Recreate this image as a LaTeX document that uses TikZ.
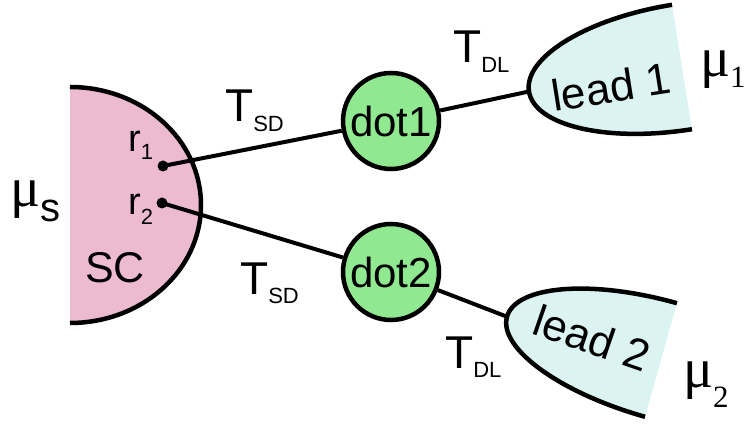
\documentclass[tikz,border=0pt]{standalone}
\usepackage{fontspec}
\setmainfont{Liberation Sans}
\newfontfamily\serifmu{Liberation Serif}
\definecolor{scpink}{RGB}{237,187,208}
\definecolor{leadcyan}{RGB}{220,244,241}
\definecolor{dotgreen}{RGB}{144,232,144}
\begin{document}
\begin{tikzpicture}[x=1pt,y=1pt,
  qdot/.style={circle, draw, line width=4.5pt, fill=dotgreen, minimum size=96pt, inner sep=0pt, font=\fontsize{42}{42}\selectfont},
  wire/.style={line width=4pt},
  edgeline/.style={line width=4.5pt},
  pin/.style={circle, fill=black, minimum size=11pt, inner sep=0pt},
  lbl/.style={inner sep=0pt, anchor=base west, font=\fontsize{46}{46}\selectfont},
  leadtxt/.style={inner sep=0pt, font=\fontsize{44}{44}\selectfont},
]
\useasboundingbox (0,0) rectangle (752,423);
% superconductor
\fill[scpink] (70,336) arc[start angle=90, end angle=-90, x radius=131, y radius=118] -- cycle;
\draw[edgeline] (70,336) arc[start angle=90, end angle=-90, x radius=131, y radius=118];
% lead 1
\begin{scope}[shift={(682,356)}, rotate=9.1]
  \fill[leadcyan] (0,63) arc[start angle=90, end angle=270, x radius=155, y radius=63] -- cycle;
  \draw[edgeline] (0,63) arc[start angle=90, end angle=270, x radius=155, y radius=63];
  \coordinate (l1) at (-155,0);
\end{scope}
% lead 2
\begin{scope}[shift={(661,63)}, rotate=-15.7]
  \fill[leadcyan] (0,59) arc[start angle=90, end angle=270, x radius=160, y radius=59] -- cycle;
  \draw[edgeline] (0,59) arc[start angle=90, end angle=270, x radius=160, y radius=59];
  \coordinate (l2) at (-160,0);
\end{scope}
\node[leadtxt, rotate=9] (lead1) at (611,336) {lead 1};
\node[leadtxt, rotate=-19] (lead2) at (592,85) {lead 2};
% dots
\node[qdot] (dot1) at (391,302) {dot1};
\node[qdot] (dot2) at (391,151) {dot2};
\node[pin] (r1) at (163,257) {};
\node[pin] (r2) at (162,220) {};
% connectors
\draw[wire] (r1.center) -- (dot1);
\draw[wire] (r2.center) -- (dot2);
\draw[wire] (dot1) -- (l1);
\draw[wire] (dot2) -- (l2);
% labels
\node[lbl] (tsd1) at (225,301) {T\raisebox{-10pt}{\fontsize{22}{22}\selectfont SD}};
\node[lbl] (tsd2) at (240,128) {T\raisebox{-9pt}{\fontsize{22}{22}\selectfont SD}};
\node[lbl] (tdl1) at (453,360) {T\raisebox{-10pt}{\fontsize{22}{22}\selectfont DL}};
\node[lbl] (tdl2) at (445,55) {T\raisebox{-10pt}{\fontsize{22}{22}\selectfont DL}};
\node[lbl, font=\fontsize{38}{38}\selectfont] (r1l) at (128,271) {r\raisebox{-8pt}{\fontsize{22}{22}\selectfont 1}};
\node[lbl, font=\fontsize{38}{38}\selectfont] (r2l) at (128,208) {r\raisebox{-10pt}{\fontsize{22}{22}\selectfont 2}};
\node[lbl, font=\fontsize{43}{43}\selectfont] (sc) at (85,140) {SC};
\node[lbl, font=\fontsize{56}{56}\selectfont] (mus) at (10,216) {{\serifmu μ}\raisebox{-15pt}{\fontsize{40}{40}\selectfont s}};
\node[lbl, font=\fontsize{56}{56}\selectfont] (mu1) at (700,346) {\serifmu μ\raisebox{-11pt}{\fontsize{31}{31}\selectfont 1}};
\node[lbl, font=\fontsize{56}{56}\selectfont] (mu2) at (683,35) {\serifmu μ\raisebox{-20pt}{\fontsize{31}{31}\selectfont 2}};
\end{tikzpicture}
\end{document}
